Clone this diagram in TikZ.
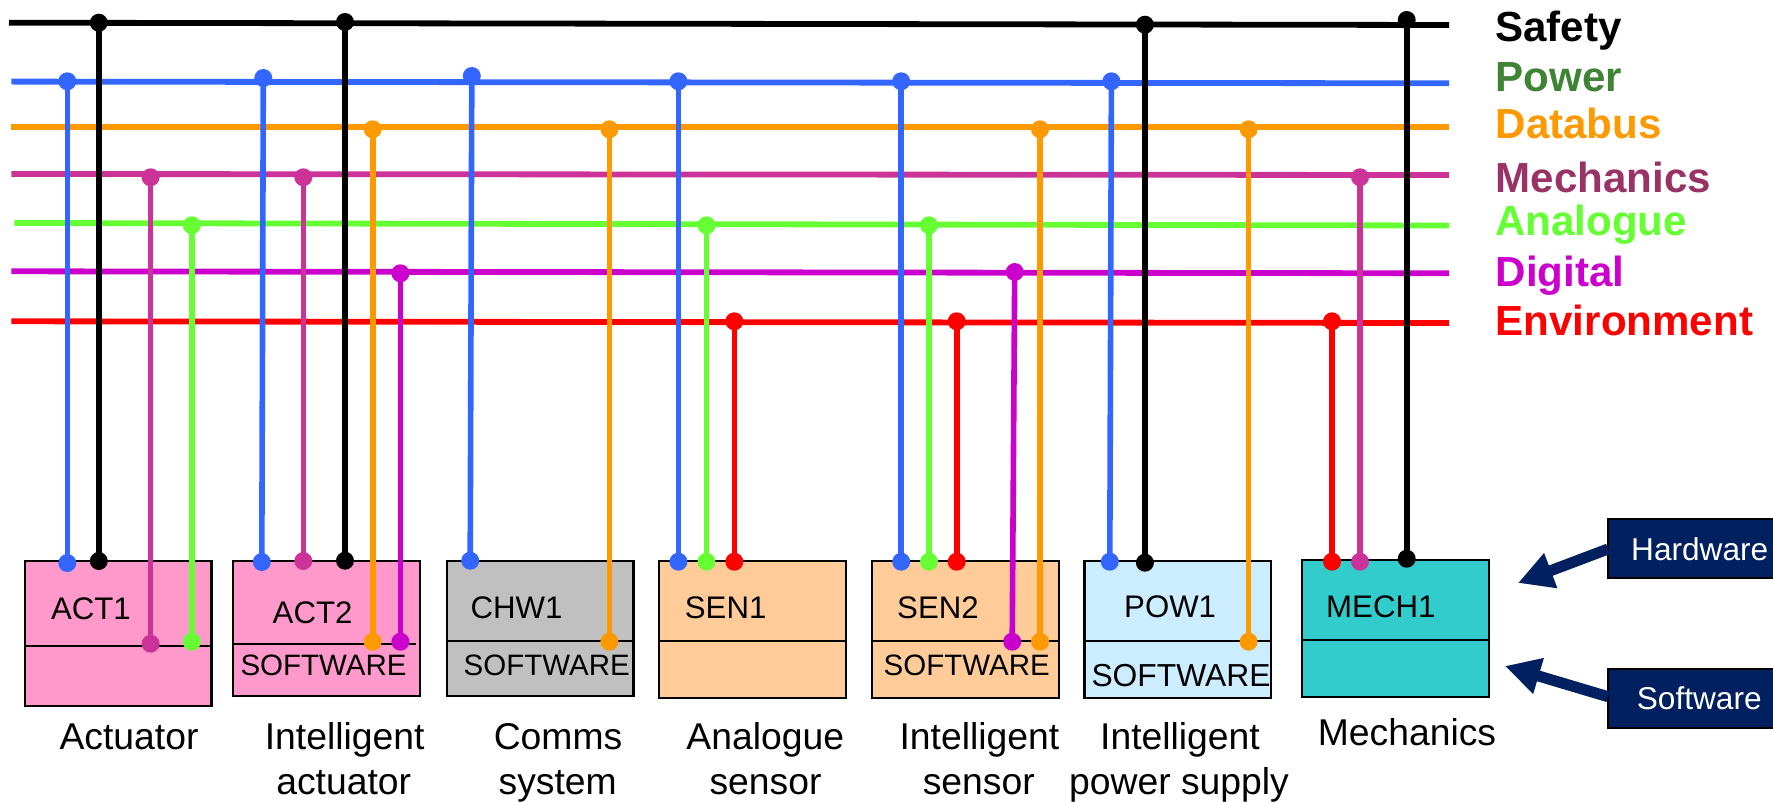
\documentclass[tikz,border=0pt]{standalone}
\usepackage{fontspec}
\setmainfont{Liberation Sans}
\usetikzlibrary{arrows.meta}
\definecolor{cblue}{HTML}{3366FF}
\definecolor{corange}{HTML}{FF9900}
\definecolor{cmech}{HTML}{CC3399}
\definecolor{cgreen}{HTML}{66FF33}
\definecolor{cdig}{HTML}{CC00CC}
\definecolor{cred}{HTML}{FF0000}
\definecolor{cpow}{HTML}{3F8335}
\definecolor{cmtxt}{HTML}{993366}
\definecolor{fpink}{HTML}{FF99CC}
\definecolor{fgray}{HTML}{C0C0C0}
\definecolor{forange}{HTML}{FFCC99}
\definecolor{fsky}{HTML}{CCECFF}
\definecolor{fteal}{HTML}{33CCCC}
\definecolor{navy}{HTML}{002060}
\tikzset{
  busline/.style={line width=5.8pt,line cap=butt},
  dropline/.style={line width=5.6pt,line cap=butt},
  dotnode/.style={circle,fill=#1,draw=none,inner sep=0pt,minimum size=18pt},
  divline/.style={draw=black,line width=2.2pt},
  unitname/.style={anchor=base west,inner sep=0pt,font=\fontsize{31.2}{36}\selectfont},
  softname/.style={anchor=base west,inner sep=0pt,font=\fontsize{29.5}{35}\selectfont},
  softbig/.style={anchor=base west,inner sep=0pt,font=\fontsize{31.8}{38}\selectfont},
  caption/.style={anchor=base,inner sep=0pt,font=\fontsize{37.3}{44}\selectfont},
  legend/.style={anchor=base west,inner sep=0pt,font=\fontsize{42.1}{50}\selectfont\bfseries},
  tagtext/.style={anchor=base west,inner sep=0pt,text=white,font=\fontsize{31.6}{37}\selectfont},
  tagarrow/.style={navy,line width=11pt,-{Triangle[length=35pt,width=35pt]}}
}
% #1 name, #2 colour, #3 top x, #4 top y, #5 bottom x, #6 bottom y
\newcommand{\busdrop}[6]{%
  \node[dotnode=#2] (#1t) at (#3,#4) {};
  \node[dotnode=#2] (#1b) at (#5,#6) {};
  \draw[dropline,#2] (#1t.center) -- (#1b.center);
}
% #1 name, #2 fill, #3 x0, #4 y0, #5 x1, #6 y1, #7 divider y, #8 divider right x
\newcommand{\unit}[8]{%
  \coordinate (#1nw) at (#3,#4);
  \coordinate (#1se) at (#5,#6);
  \draw[draw=black,line width=2.2pt,fill=#2] (#1nw) rectangle (#1se);
  \coordinate (#1dl) at (#3,#7);
  \coordinate (#1dr) at (#8,#7);
  \draw[divline] (#1dl) -- (#1dr);
}
\begin{document}
\begin{tikzpicture}[x=1pt,y=-1pt]
\useasboundingbox (0,0) rectangle (1773,802);
% buses
\coordinate (b1l) at (9,22.7);    \coordinate (b1r) at (1449,25);
\coordinate (b2l) at (11.4,81.6); \coordinate (b2r) at (1449,83.3);
\coordinate (b3l) at (11.4,127);  \coordinate (b3r) at (1449,127);
\coordinate (b4l) at (11.4,174);  \coordinate (b4r) at (1449,175);
\coordinate (b5l) at (14.3,223);  \coordinate (b5r) at (1449,225.5);
\coordinate (b6l) at (11.4,271.3);\coordinate (b6r) at (1449,273.3);
\coordinate (b7l) at (11.4,321.3);\coordinate (b7r) at (1449,323);
\draw[busline,black]   (b1l) -- (b1r);
\draw[busline,cblue]   (b2l) -- (b2r);
\draw[busline,corange] (b3l) -- (b3r);
\draw[busline,cmech]   (b4l) -- (b4r);
\draw[busline,cgreen]  (b5l) -- (b5r);
\draw[busline,cdig]    (b6l) -- (b6r);
\draw[busline,cred]    (b7l) -- (b7r);
% units
\unit{act1}{fpink}{24.9}{561.3}{211.4}{705.7}{645.7}{211.4}
\unit{act2}{fpink}{232.7}{561.3}{419.6}{695.7}{644}{415.5}
\unit{chw1}{fgray}{447.3}{561.3}{633.5}{695.7}{641}{633.5}
\unit{sen1}{forange}{659.2}{561.3}{846}{697.7}{641}{846}
\unit{sen2}{forange}{871.8}{561.3}{1058.8}{697.7}{641}{1058.8}
\unit{pow1}{fsky}{1084.5}{561.3}{1271}{697.7}{641}{1271}
\unit{mech1}{fteal}{1302.3}{560.3}{1488.7}{697}{640}{1488.7}
% unit names
\node[unitname] (nact1) at (50.8,619.3) {ACT1};
\node[unitname] (nact2) at (272.5,623.3) {ACT2};
\node[unitname] (nchw1) at (470.4,618.3) {CHW1};
\node[unitname] (nsen1) at (684.7,618.3) {SEN1};
\node[unitname] (nsen2) at (897,618.3) {SEN2};
\node[unitname] (npow1) at (1124,617.3) {POW1};
\node[unitname] (nmech1) at (1326,617.3) {MECH1};
\node[softname] (sact2) at (240.3,675.7) {SOFTWARE};
\node[softname] (schw1) at (463.5,675.7) {SOFTWARE};
\node[softname] (ssen2) at (883.5,675.7) {SOFTWARE};
\node[softbig] (spow1) at (1091.3,686) {SOFTWARE};
% drops
\busdrop{a1p}{cblue}{67.3}{81.3}{67.3}{563}
\busdrop{a1s}{black}{98.8}{22.7}{98.8}{561}
\busdrop{a1m}{cmech}{150.6}{177.3}{150.6}{643.7}
\busdrop{a1g}{cgreen}{191.8}{225.3}{191.8}{641.7}
\busdrop{a2p}{cblue}{263.3}{78}{261.8}{562}
\busdrop{a2m}{cmech}{303.3}{177.3}{303.3}{561}
\busdrop{a2s}{black}{345}{22}{345}{560.7}
\busdrop{a2d}{corange}{372.7}{129.3}{372.7}{641.7}
\busdrop{a2x}{cdig}{400.4}{273.3}{400.4}{641.7}
\busdrop{c1p}{cblue}{471.8}{76}{470.2}{560.7}
\busdrop{c1d}{corange}{609.4}{129.3}{609.4}{641.7}
\busdrop{s1p}{cblue}{678.4}{81.3}{678.4}{561.7}
\busdrop{s1g}{cgreen}{706.5}{225.3}{706.5}{561.7}
\busdrop{s1e}{cred}{734.3}{321.3}{734.3}{561.7}
\busdrop{s2p}{cblue}{901.2}{81.3}{901.2}{561.7}
\busdrop{s2g}{cgreen}{929}{225.3}{929}{561.7}
\busdrop{s2e}{cred}{956.7}{321.3}{956.7}{561.7}
\busdrop{s2x}{cdig}{1014.7}{272}{1012.2}{641.7}
\busdrop{s2d}{corange}{1040}{129.3}{1040}{641.7}
\busdrop{p1p}{cblue}{1111.4}{81.3}{1109.8}{561.7}
\busdrop{p1s}{black}{1144.9}{24.7}{1144.9}{562.7}
\busdrop{p1d}{corange}{1248.6}{129.3}{1248.6}{641.7}
\busdrop{m1e}{cred}{1332}{321.3}{1332}{561.7}
\busdrop{m1m}{cmech}{1360}{177.3}{1360}{561.7}
\busdrop{m1s}{black}{1406.7}{20}{1406.7}{558.7}
% captions
\node[caption] (c1) at (129,749) {Actuator};
\node[caption] (c2a) at (344.7,749) {Intelligent};
\node[caption] (c2b) at (343.7,794) {actuator};
\node[caption] (c3a) at (558,749) {Comms};
\node[caption] (c3b) at (557.7,794) {system};
\node[caption] (c4a) at (765.3,749) {Analogue};
\node[caption] (c4b) at (765.5,794) {sensor};
\node[caption] (c5a) at (979.4,749) {Intelligent};
\node[caption] (c5b) at (978.8,794) {sensor};
\node[caption] (c6a) at (1180,749) {Intelligent};
\node[caption] (c6b) at (1179,794) {power supply};
\node[caption] (c7) at (1407,745) {Mechanics};
% legend
\node[legend,text=black]   (l1) at (1495,41.5)    {Safety};
\node[legend,text=cpow]    (l2) at (1495.5,91.5)  {Power};
\node[legend,text=corange] (l3) at (1495.5,138.7) {Databus};
\node[legend,text=cmtxt]   (l4) at (1495.5,192.3) {Mechanics};
\node[legend,text=cgreen]  (l5) at (1495,235.3)   {Analogue};
\node[legend,text=cdig]    (l6) at (1495.5,286.7) {Digital};
\node[legend,text=cred]    (l7) at (1495.5,335.7) {Environment};
% tags
\coordinate (hwnw) at (1608,518.5); \coordinate (hwse) at (1790,577.5);
\draw[fill=navy,draw=black,line width=2pt] (hwnw) rectangle (hwse);
\coordinate (swnw) at (1608,668.5); \coordinate (swse) at (1790,727.5);
\draw[fill=navy,draw=black,line width=2pt] (swnw) rectangle (swse);
\node[tagtext] (hw) at (1631,560) {Hardware};
\node[tagtext] (sw) at (1636.7,709) {Software};
\coordinate (hwtail) at (1608,549);
\coordinate (hwtip) at (1518,583);
\coordinate (swtail) at (1608,696.7);
\coordinate (swtip) at (1505,666);
\draw[tagarrow] (hwtail) -- (hwtip);
\draw[tagarrow] (swtail) -- (swtip);
\end{tikzpicture}
\end{document}
